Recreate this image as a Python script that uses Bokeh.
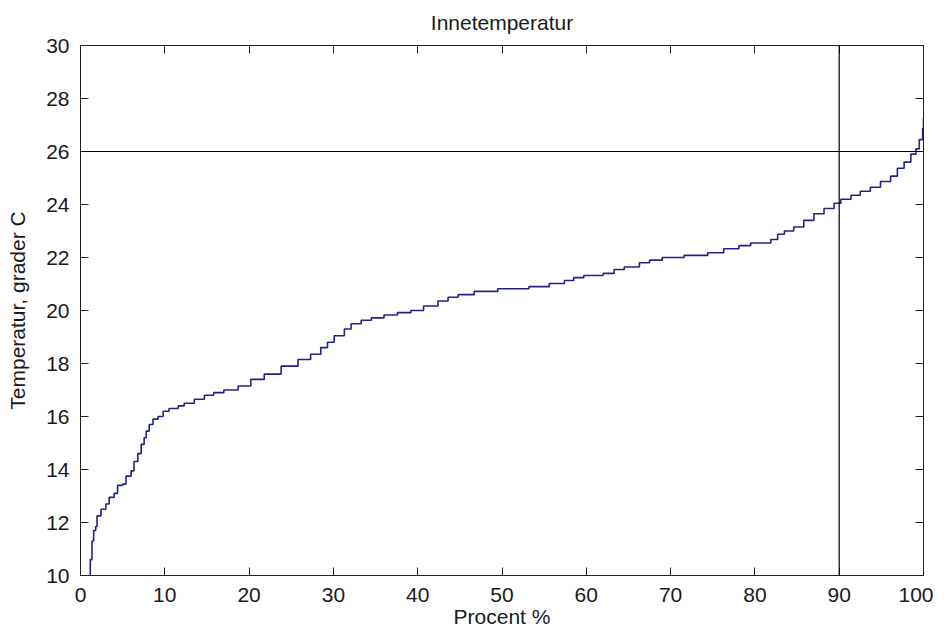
from bokeh.plotting import figure
from bokeh.models import Range1d, FixedTicker, LinearAxis, Span
from bokeh.embed import file_html
from bokeh.resources import INLINE

# Sorted indoor temperature (duration curve): percent of time vs temperature
percent = [1.16, 1.16, 1.36, 1.56, 1.8, 1.96, 2.43, 3.0, 3.4, 4.0, 4.4, 5.0, 5.4, 6.0,
           6.35, 6.8, 7.2, 7.55, 7.8, 8.15, 8.6, 9.2, 9.8, 10.5, 11.6, 12.3, 13.5,
           14.7, 15.8, 17.0, 18.7, 20.2, 21.8, 23.8, 25.8, 27.3, 28.5, 29.3, 30.1,
           31.3, 32.1, 33.3, 34.5, 36.0, 37.6, 39.2, 40.7, 42.4, 43.6, 44.8, 46.7,
           49.5, 53.2, 55.6, 57.4, 58.5, 59.7, 62.0, 63.3, 64.5, 66.3, 67.5, 69.0,
           71.6, 74.4, 76.3, 78.1, 79.5, 81.9, 82.7, 83.5, 84.6, 85.8, 87.0, 88.2,
           89.4, 90.2, 91.4, 92.5, 93.7, 94.9, 96.1, 96.9, 97.7, 98.5, 99.1, 99.5,
           99.9, 100.0]
temperature = [9.0, 10.6, 11.3, 11.7, 11.85, 12.25, 12.5, 12.7, 12.95, 13.1, 13.4, 13.45,
               13.75, 13.95, 14.3, 14.6, 14.95, 15.2, 15.45, 15.7, 15.9, 16.0, 16.2,
               16.3, 16.4, 16.5, 16.65, 16.8, 16.9, 17.0, 17.15, 17.4, 17.6, 17.9,
               18.15, 18.35, 18.6, 18.8, 19.05, 19.3, 19.5, 19.63, 19.72, 19.83, 19.92,
               20.0, 20.17, 20.36, 20.5, 20.6, 20.72, 20.82, 20.9, 21.02, 21.13, 21.24,
               21.32, 21.4, 21.55, 21.64, 21.8, 21.9, 22.0, 22.08, 22.18, 22.33, 22.45,
               22.55, 22.68, 22.88, 23.0, 23.15, 23.4, 23.65, 23.85, 24.05, 24.2, 24.35,
               24.5, 24.65, 24.87, 25.07, 25.37, 25.6, 25.9, 26.1, 26.45, 26.87, 27.25]

x_ticks = [0, 10, 20, 30, 40, 50, 60, 70, 80, 90, 100]
y_ticks = [10, 12, 14, 16, 18, 20, 22, 24, 26, 28, 30]
limit_percent = 90
limit_temperature = 26

FONT = "Liberation Sans"
FS = "21px"
TXT = "#1a1a1a"

p = figure(width=933, height=630, output_backend="svg", toolbar_location=None,
           x_range=Range1d(0, 100), y_range=Range1d(10, 30),
           min_border_left=80, min_border_right=10, min_border_top=44, min_border_bottom=52,
           title="Innetemperatur")
p.background_fill_color = "white"
p.border_fill_color = "white"
p.outline_line_color = "#222222"
p.outline_line_width = 1
p.grid.visible = False

p.title.text_font = FONT
p.title.text_font_size = FS
p.title.text_font_style = "normal"
p.title.text_color = TXT
p.title.align = "center"
p.title.standoff = 20
p.title.vertical_align = "top"

for ax in (p.xaxis[0], p.yaxis[0]):
    ax.major_label_text_font = FONT
    ax.major_label_text_font_size = FS
    ax.major_label_text_color = TXT
    ax.axis_label_text_font = FONT
    ax.axis_label_text_font_size = FS
    ax.axis_label_text_font_style = "normal"
    ax.axis_label_text_color = TXT
    ax.major_tick_in = 8
    ax.major_tick_out = 0
    ax.minor_tick_in = 0
    ax.minor_tick_out = 0
    ax.axis_line_color = "#222222"
    ax.major_tick_line_color = "#222222"

p.xaxis[0].ticker = FixedTicker(ticks=x_ticks)
p.yaxis[0].ticker = FixedTicker(ticks=y_ticks)
p.xaxis[0].axis_label = "Procent %"
p.yaxis[0].axis_label = "Temperatur, grader C"
p.xaxis[0].major_label_standoff = 12
p.xaxis[0].axis_label_standoff = 0
p.yaxis[0].major_label_standoff = 11
p.yaxis[0].axis_label_standoff = 14

top_ax = LinearAxis(ticker=FixedTicker(ticks=x_ticks))
right_ax = LinearAxis(ticker=FixedTicker(ticks=y_ticks))
for ax in (top_ax, right_ax):
    ax.major_label_text_font_size = "0px"
    ax.major_label_text_alpha = 0
    ax.major_label_standoff = 0
    ax.major_tick_in = 8
    ax.major_tick_out = 0
    ax.minor_tick_in = 0
    ax.minor_tick_out = 0
    ax.axis_line_color = "#222222"
    ax.major_tick_line_color = "#222222"
p.add_layout(top_ax, "above")
p.add_layout(right_ax, "right")

p.step(percent, temperature, mode="after", line_color="#222288", line_width=1.6)

p.add_layout(Span(location=limit_percent, dimension="height", line_color="black", line_width=1.2))
p.add_layout(Span(location=limit_temperature, dimension="width", line_color="black", line_width=1.2))

open("out.html", "w").write(file_html(p, INLINE))
